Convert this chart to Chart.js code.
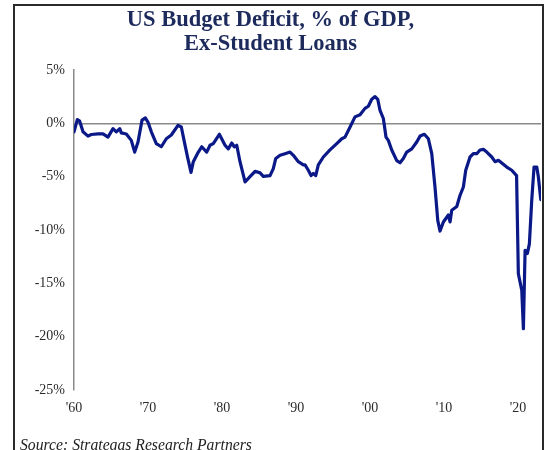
<!DOCTYPE html>
<html lang="en">
<head>
    <meta charset="UTF-8">
    <title>US Budget Deficit, % of GDP, Ex-Student Loans</title>
    <script src="https://cdn.jsdelivr.net/npm/chart.js"></script>
    <style>
        html, body { margin: 0; padding: 0; background: #fff; overflow: hidden; }
        #page { position: relative; width: 552px; height: 450px; overflow: hidden; }
        #frame {
            position: absolute; left: 13px; top: 4px; width: 531px; height: 470px;
            border: 2px solid #2a2a2a; box-sizing: border-box;
        }
        #chartBox { position: absolute; left: 0; top: 0; width: 552px; height: 450px; }
        #source {
            position: absolute; left: 20px; top: 437px;
            font: italic 15.7px/16px "Liberation Serif", serif; color: #222;
            white-space: nowrap;
        }
    </style>
</head>
<body>
<div id="page">
    <div id="frame"></div>
    <div id="chartBox"><canvas id="deficitChart"></canvas></div>
    <div id="source">Source: Strategas Research Partners</div>
</div>

<script>
    // Budget balance as % of GDP (student loans excluded), by fractional year
    var years = [
        1960.0, 1960.45, 1960.77, 1961.22, 1961.89, 1962.34, 1963.24, 1963.92, 1964.59, 1965.27,
        1965.72, 1966.18, 1966.39, 1967.07, 1967.74, 1968.2, 1968.65, 1969.19, 1969.64, 1970.0,
        1970.45, 1971.12, 1971.8, 1972.47, 1973.15, 1974.05, 1974.5, 1974.96, 1975.35, 1975.81,
        1976.12, 1976.8, 1977.26, 1977.93, 1978.38, 1978.82, 1979.64, 1980.41, 1980.85, 1981.31,
        1981.66, 1981.99, 1982.43, 1983.11, 1983.78, 1984.46, 1985.14, 1985.58, 1986.49, 1986.93,
        1987.26, 1987.84, 1988.51, 1989.19, 1989.64, 1990.31, 1990.99, 1991.22, 1991.66, 1992.03,
        1992.34, 1992.66, 1993.01, 1993.69, 1994.59, 1995.5, 1996.18, 1996.62, 1997.3, 1997.97,
        1998.65, 1999.32, 1999.77, 2000.23, 2000.68, 2001.04, 2001.35, 2001.8, 2002.16, 2002.47,
        2002.93, 2003.61, 2004.05, 2004.5, 2004.96, 2005.64, 2006.31, 2006.76, 2007.34, 2007.88,
        2008.34, 2008.78, 2009.15, 2009.46, 2009.91, 2010.58, 2010.81, 2011.04, 2011.72, 2012.16,
        2012.61, 2012.93, 2013.51, 2013.96, 2014.42, 2014.86, 2015.31, 2015.77, 2016.45, 2016.89,
        2017.34, 2017.8, 2018.47, 2019.15, 2019.8, 2020.04, 2020.5, 2020.72, 2020.95, 2021.26,
        2021.53, 2021.85, 2022.16, 2022.53, 2022.74, 2023.07
    ];
    var deficitPct = [
        -0.8, 0.35, 0.2, -0.8, -1.2, -1.05, -1.0, -1.0, -1.3, -0.5,
        -0.8, -0.5, -0.9, -1.0, -1.6, -2.7, -1.75, 0.3, 0.5, 0.1,
        -0.8, -1.9, -2.2, -1.45, -1.1, -0.2, -0.35, -1.9, -3.2, -4.6,
        -3.6, -2.7, -2.2, -2.7, -2.06, -1.9, -1.03, -2.06, -2.4, -1.85,
        -2.2, -2.06, -3.6, -5.5, -5.0, -4.5, -4.65, -4.97, -4.9, -4.25,
        -3.3, -3.0, -2.85, -2.7, -3.0, -3.6, -3.9, -3.9, -4.4, -4.9,
        -4.7, -4.9, -3.9, -3.16, -2.5, -1.9, -1.45, -1.3, -0.35, 0.6,
        0.8, 1.4, 1.6, 2.25, 2.5, 2.25, 1.2, 0.45, -1.3, -1.6,
        -2.5, -3.5, -3.7, -3.3, -2.7, -2.4, -1.75, -1.2, -1.03, -1.45,
        -2.85, -6.0, -9.1, -10.1, -9.25, -8.6, -9.25, -8.15, -7.8, -6.75,
        -5.97, -4.4, -3.16, -2.85, -2.85, -2.5, -2.44, -2.7, -3.16, -3.6,
        -3.47, -3.72, -4.1, -4.4, -4.9, -14.1, -15.65, -19.25, -11.9, -12.2,
        -11.3, -7.2, -4.1, -4.1, -5.0, -7.15
    ];

    var titleLines = ['US Budget Deficit, % of GDP,', 'Ex-Student Loans'];
    var yMin = -25, yMax = 5, yStep = 5;
    var xMin = 1960, xMax = 2023.1, xStep = 10;

    var points = years.map(function (y, i) { return { x: y, y: deficitPct[i] }; });

    var ctx = document.getElementById('deficitChart').getContext('2d');
    new Chart(ctx, {
        type: 'line',
        data: {
            datasets: [{
                label: 'Deficit % of GDP',
                data: points,
                borderColor: '#0b1988',
                borderWidth: 3.2,
                borderJoinStyle: 'round',
                borderCapStyle: 'round',
                pointRadius: 0,
                tension: 0,
                fill: false
            }]
        },
        options: {
            responsive: true,
            maintainAspectRatio: false,
            animation: false,
            layout: { padding: { left: 0, right: 11, top: 0, bottom: 0 } },
            plugins: {
                legend: { display: false },
                tooltip: { enabled: false },
                title: {
                    display: true,
                    text: titleLines,
                    color: '#1c2a5c',
                    font: { family: '"Liberation Serif", serif', size: 22.5, weight: 'bold', lineHeight: 1.03 },
                    padding: { top: 9, bottom: 14.6 }
                }
            },
            scales: {
                x: {
                    type: 'linear',
                    min: xMin,
                    max: xMax,
                    grid: { display: false, drawTicks: false },
                    border: { display: false },
                    afterFit: function (scale) { scale.height = 60; },
                    afterBuildTicks: function (scale) {
                        var t = [];
                        for (var v = xMin; v <= xMax; v += xStep) t.push({ value: v });
                        scale.ticks = t;
                    },
                    ticks: {
                        padding: 10,
                        maxRotation: 0,
                        color: '#2b2b2b',
                        font: { family: '"Liberation Serif", serif', size: 14 },
                        callback: function (v) { return "'" + String(v).slice(2, 4); }
                    }
                },
                y: {
                    min: yMin,
                    max: yMax,
                    afterFit: function (scale) { scale.width = 74; },
                    grid: {
                        drawTicks: false,
                        lineWidth: 1.5,
                        color: function (c) { return c.tick && c.tick.value === 0 ? '#8a8a8a' : 'rgba(0,0,0,0)'; }
                    },
                    border: { display: true, color: '#8a8a8a', width: 1.5 },
                    ticks: {
                        stepSize: yStep,
                        padding: 9,
                        color: '#2b2b2b',
                        font: { family: '"Liberation Serif", serif', size: 14 },
                        callback: function (v) { return v + '%'; }
                    }
                }
            }
        }
    });
</script>
</body>
</html>
